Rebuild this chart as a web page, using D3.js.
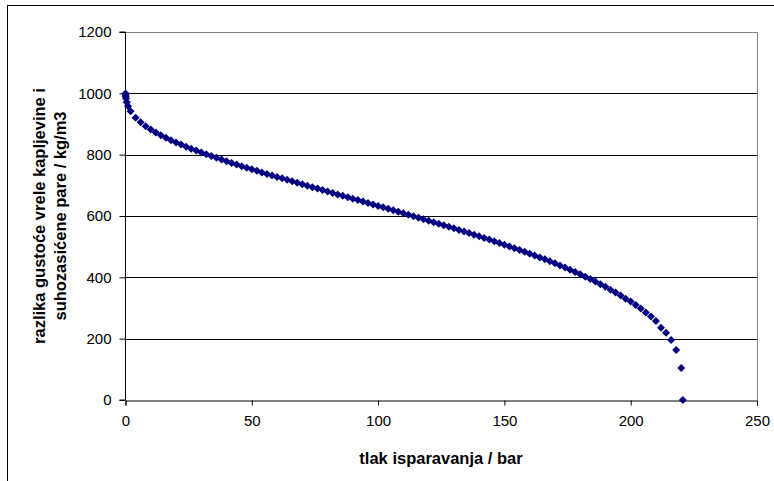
<!DOCTYPE html>
<html>
<head>
<meta charset="utf-8">
<script src="https://cdn.jsdelivr.net/npm/d3@7"></script>
<style>
html,body{margin:0;padding:0;background:#fff;}
svg{display:block;font-family:"Liberation Sans",Arial,sans-serif;}
</style>
</head>
<body>
<svg id="chart" width="774" height="481"></svg>
<script>
// Saturation pressure (bar)
const pressure = [0.01, 0.05, 0.1, 0.2, 0.5, 1,
  2, 4, 6, 8, 10, 12, 14, 16, 18, 20, 22, 24, 26, 28, 30, 32, 34, 36, 38, 40,
  42, 44, 46, 48, 50, 52, 54, 56, 58, 60, 62, 64, 66, 68, 70, 72, 74, 76, 78, 80,
  82, 84, 86, 88, 90, 92, 94, 96, 98, 100, 102, 104, 106, 108, 110, 112, 114, 116, 118, 120,
  122, 124, 126, 128, 130, 132, 134, 136, 138, 140, 142, 144, 146, 148, 150, 152, 154, 156, 158, 160,
  162, 164, 166, 168, 170, 172, 174, 176, 178, 180, 182, 184, 186, 188, 190, 192, 194, 196, 198, 200,
  202, 204, 206, 208, 210, 212, 214, 216, 218, 220, 220.64];
// Density difference saturated liquid - dry saturated vapour (kg/m3)
const densityDiff = [999.8, 994.7, 989.8, 983.1, 970.7, 958.0,
  941.8, 920.5, 905.4, 892.8, 882.0, 872.2, 863.3, 855.0, 847.2, 839.8, 832.9, 826.1, 819.6, 813.3, 807.2, 801.2, 795.3, 789.6, 784.0, 778.5,
  773.1, 767.7, 762.4, 757.3, 752.2, 747.2, 742.2, 737.3, 732.4, 727.5, 722.7, 717.9, 713.1, 708.3, 703.6, 698.9, 694.1, 689.4, 684.6, 679.9,
  675.2, 670.5, 665.8, 661.2, 656.5, 651.8, 647.1, 642.4, 637.7, 633.0, 628.3, 623.5, 618.7, 614.0, 609.2, 604.4, 599.5, 594.7, 589.8, 584.9,
  579.9, 574.9, 569.9, 564.8, 559.8, 554.7, 549.5, 544.3, 539.1, 533.9, 528.5, 523.1, 517.6, 512.1, 506.5, 500.8, 495.0, 489.2, 483.3, 477.3,
  471.2, 465.0, 458.7, 452.2, 445.6, 438.8, 431.9, 424.9, 417.6, 410.0, 402.3, 394.3, 386.1, 377.7, 369.0, 359.8, 350.3, 340.5, 330.2, 321.5,
  310.0, 298.0, 285.5, 272.0, 258.0, 236.0, 219.0, 196.0, 163.0, 104.0, 0.0];
const xTicks = [0, 50, 100, 150, 200, 250];
const yTicks = [0, 200, 400, 600, 800, 1000, 1200];
const xTitle = "tlak isparavanja / bar";
const yTitleLines = ["razlika gustoće vrele kapljevine i", "suhozasićene pare / kg/m3"];

const data = pressure.map((p, i) => ({x: p, y: densityDiff[i]}));

const svg = d3.select("#chart");
const L = 125.5, R = 757, T = 32, B = 400;
const x = d3.scaleLinear().domain([0, 250]).range([L, R]);
const y = d3.scaleLinear().domain([0, 1200]).range([B, T]);

// outer chart border
svg.append("rect").attr("x", 7.5).attr("y", 5.5).attr("width", 800).attr("height", 500)
  .attr("fill", "#fff").attr("stroke", "#000").attr("stroke-width", 1);

// gridlines
svg.append("g").selectAll("line").data(yTicks.filter(v => v > 0 && v < 1200)).join("line")
  .attr("x1", L).attr("x2", R)
  .attr("y1", d => Math.round(y(d)) + 0.5).attr("y2", d => Math.round(y(d)) + 0.5)
  .attr("stroke", "#000").attr("stroke-width", 1);

// plot-area border (top/right)
svg.append("path")
  .attr("d", `M${L},${T + 0.5}H${R + 0.5}V${B}`)
  .attr("fill", "none").attr("stroke", "#808080").attr("stroke-width", 1);

// axes
const yAxis = d3.axisLeft(y).tickValues(yTicks).tickSize(6).tickPadding(8).tickFormat(d3.format("d"));
const gy = svg.append("g").attr("transform", `translate(${L},0)`).call(yAxis);
const xAxis = d3.axisBottom(x).tickValues(xTicks).tickSize(5).tickPadding(10).tickFormat(d3.format("d"));
const gx = svg.append("g").attr("transform", `translate(0,${B + 0.5})`).call(xAxis);
[gx, gy].forEach(g => {
  g.attr("font-size", 15).attr("font-family", "Liberation Sans, Arial, sans-serif");
  g.select(".domain").attr("stroke", "#000");
  g.selectAll(".tick line").attr("stroke", "#000");
  g.selectAll(".tick text").attr("font-size", 15).attr("fill", "#000");
});
gy.select(".domain").attr("d", `M-6,${T}H0V${B}H-6`);

// markers
const sym = d3.symbol().type(d3.symbolSquare).size(32);
svg.append("g").selectAll("path").data(data).join("path")
  .attr("d", sym)
  .attr("transform", d => `translate(${x(d.x)},${y(d.y)}) rotate(45)`)
  .attr("fill", "#000080");

// titles
svg.append("text").attr("x", 441).attr("y", 464).attr("text-anchor", "middle")
  .attr("font-size", 16.5).attr("font-weight", "bold").text(xTitle);
const yt = svg.append("g").attr("transform", `translate(0,216) rotate(-90)`);
yTitleLines.forEach((t, i) => {
  yt.append("text").attr("x", 0).attr("y", 45 + i * 21).attr("text-anchor", "middle")
    .attr("font-size", 16.5).attr("font-weight", "bold").text(t);
});
</script>
</body>
</html>
